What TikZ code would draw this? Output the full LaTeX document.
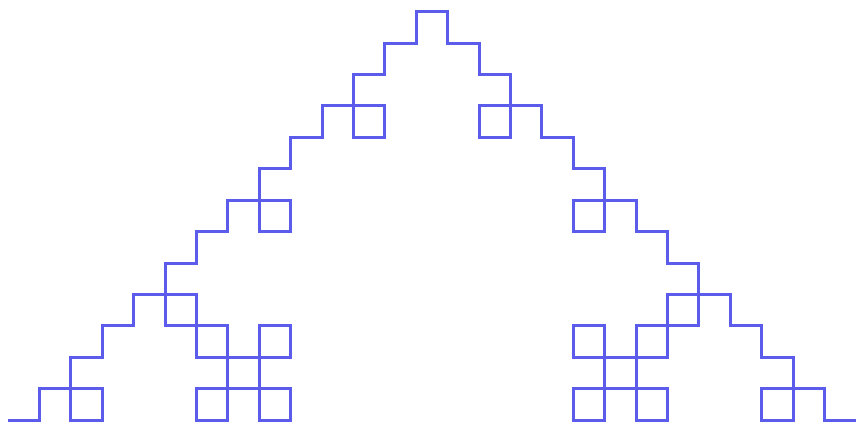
\documentclass[tikz,border=0pt]{standalone}
\definecolor{curveblue}{RGB}{92,92,236}
\tikzset{kochline/.style={draw=curveblue, line width=3pt, line join=miter}}
\begin{document}
\begin{tikzpicture}[x=1pt,y=1pt]
\useasboundingbox (0,0) rectangle (856,426);
\coordinate (start) at (8,6);
\draw[kochline] (start)
  \foreach \a in {0,1,0,-1,0} {
    \foreach \b in {0,1,0,-1,0} {
      \foreach \c in {0,1,0,-1,0} {
        -- ++({90*(\a+\b+\c)}:31.4)
      }
    }
  };
\end{tikzpicture}
\end{document}
